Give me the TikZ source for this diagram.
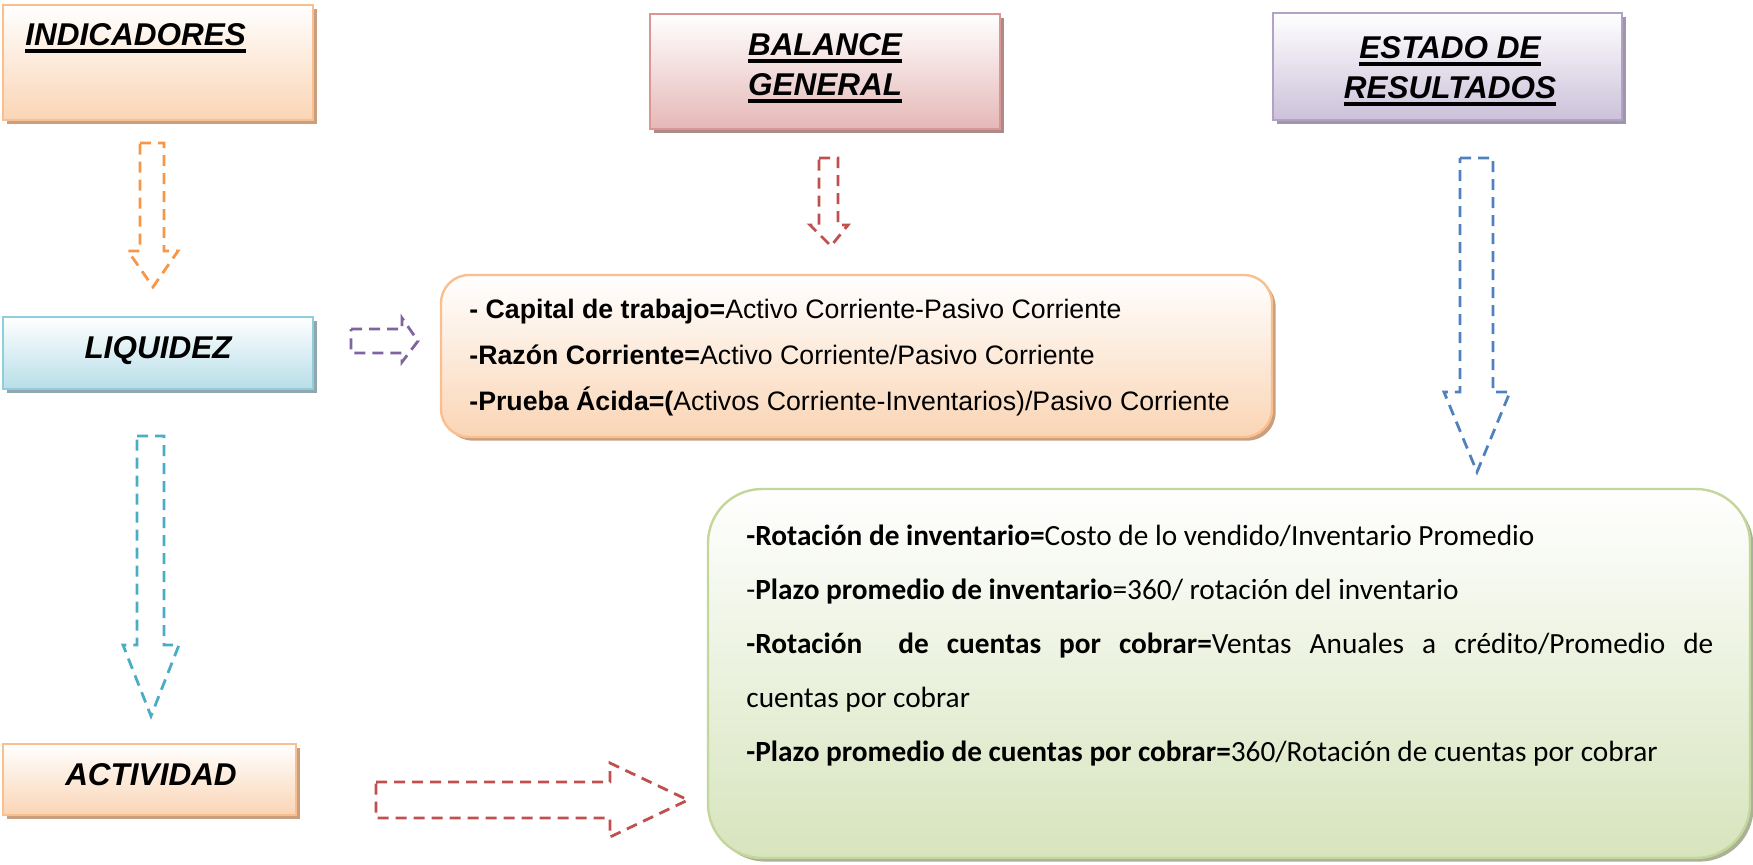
\documentclass[tikz,border=0pt]{standalone}
\usepackage{fontspec}
\setmainfont{Liberation Sans}
\newfontfamily\calfont{Carlito}
\definecolor{orB}{RGB}{250,191,143}
\definecolor{orF}{RGB}{250,213,181}
\definecolor{orS}{RGB}{200,160,128}
\definecolor{rdB}{RGB}{217,150,148}
\definecolor{rdF}{RGB}{229,184,183}
\definecolor{rdS}{RGB}{172,138,138}
\definecolor{puB}{RGB}{179,162,199}
\definecolor{puF}{RGB}{204,193,218}
\definecolor{puS}{RGB}{158,151,168}
\definecolor{cyB}{RGB}{146,205,221}
\definecolor{cyF}{RGB}{183,222,232}
\definecolor{cyS}{RGB}{143,167,173}
\definecolor{grB}{RGB}{195,214,155}
\definecolor{grF}{RGB}{215,228,189}
\definecolor{grS}{RGB}{169,178,150}
\definecolor{aOr}{RGB}{247,150,70}
\definecolor{aRd}{RGB}{192,80,77}
\definecolor{aBl}{RGB}{79,129,189}
\definecolor{aCy}{RGB}{75,172,198}
\definecolor{aPu}{RGB}{128,100,162}
\newcommand\myul[1]{\setbox0\hbox{#1}\rlap{\rule[-4pt]{\wd0}{1.8pt}}\box0}
\tikzset{
  boxbase/.style n args={3}{rectangle, draw=#1, line width=1.2pt, top color=white, bottom color=#2,
    preaction={fill=#3, transform canvas={xshift=1.8pt,yshift=-1.8pt}}, inner sep=0pt},
  head/.style={font=\fontsize{15.75}{18}\selectfont\bfseries\itshape, inner sep=0pt},
  ftxt/.style={font=\fontsize{13.35}{16}\selectfont, inner sep=0pt, anchor=base west},
  gtxt/.style={font=\calfont\fontsize{14.65}{18}\selectfont, inner sep=0pt, anchor=base west},
  blockarrow/.style={draw=#1, line width=1.4pt, dash pattern=on 5.5pt off 3.5pt, line join=miter}
}
\begin{document}
\begin{tikzpicture}[x=0.5pt,y=0.5pt]
\useasboundingbox (0,0) rectangle (1753,-864);
% boxes
\node[boxbase={orB}{orF}{orS}, minimum width=155pt, minimum height=57.5pt] (ind) at (158,-62.5) {};
\node[boxbase={rdB}{rdF}{rdS}, minimum width=175pt, minimum height=57.5pt] (bal) at (825,-71.5) {};
\node[boxbase={puB}{puF}{puS}, minimum width=174.5pt, minimum height=53.5pt] (est) at (1447.5,-66.5) {};
\node[boxbase={cyB}{cyF}{cyS}, minimum width=155pt, minimum height=36pt] (liq) at (158,-353) {};
\node[boxbase={orB}{orF}{orS}, minimum width=146.5pt, minimum height=35.5pt] (act) at (149.5,-779.5) {};
\node[boxbase={orB}{orF}{orS}, rounded corners=14pt, minimum width=415.5pt, minimum height=81pt] (fbox) at (856.5,-356) {};
\node[boxbase={grB}{grF}{grS}, rounded corners=27pt, minimum width=521pt, minimum height=184.5pt] (gbox) at (1229,-673.5) {};
% headings
\node[head, anchor=base west] (tind) at (25,-45) {\myul{INDICADORES}};
\node[head, anchor=base] (tbal1) at (825,-55) {\myul{BALANCE}};
\node[head, anchor=base] (tbal2) at (825,-95) {\myul{GENERAL}};
\node[head, anchor=base] (test1) at (1450,-58) {\myul{ESTADO DE}};
\node[head, anchor=base] (test2) at (1450,-98) {\myul{RESULTADOS}};
\node[head, anchor=base] (tliq) at (158,-358) {LIQUIDEZ};
\node[head, anchor=base] (tact) at (151,-785) {ACTIVIDAD};
% formula box text
\node[ftxt] (f1) at (469,-318) {\textbf{- Capital de trabajo=}Activo Corriente-Pasivo Corriente};
\node[ftxt] (f2) at (469,-364) {\textbf{-Razón Corriente=}Activo Corriente/Pasivo Corriente};
\node[ftxt] (f3) at (469,-410) {\textbf{-Prueba Ácida=(}Activos Corriente-Inventarios)/Pasivo Corriente};
% green box text
\node[gtxt] (g1) at (746,-545) {\textbf{-Rotación de inventario=}Costo de lo vendido/Inventario Promedio};
\node[gtxt] (g2) at (746,-599) {-\textbf{Plazo promedio de inventario}=360/ rotación del inventario};
\node[gtxt] (g3) at (746,-653) {\hbox to 483.5pt{\textbf{-Rotación\ \ de cuentas por cobrar=}Ventas Anuales a crédito/Promedio de}};
\node[gtxt] (g4) at (746,-707) {cuentas por cobrar};
\node[gtxt] (g5) at (746,-761) {\textbf{-Plazo promedio de cuentas por cobrar=}360/Rotación de cuentas por cobrar};
% dashed block arrows
\draw[blockarrow=aOr] (140,-143) -- (164,-143) -- (164,-251) -- (178,-251) -- (153,-287) -- (128,-251) -- (140,-251) -- cycle;
\draw[blockarrow=aRd] (819,-158) -- (838,-158) -- (838,-225) -- (848,-225) -- (831,-246) -- (810,-225) -- (819,-225) -- cycle;
\draw[blockarrow=aBl] (1460,-158) -- (1493,-158) -- (1493,-392) -- (1510,-392) -- (1477,-472) -- (1444,-392) -- (1460,-392) -- cycle;
\draw[blockarrow=aCy] (137,-436) -- (164,-436) -- (164,-645) -- (179,-645) -- (151,-716) -- (123,-645) -- (137,-645) -- cycle;
\draw[blockarrow=aPu] (351,-329) -- (402,-329) -- (402,-318) -- (418,-341) -- (402,-362) -- (402,-353) -- (351,-353) -- cycle;
\draw[blockarrow=aRd] (376,-782) -- (610,-782) -- (610,-763) -- (688,-800) -- (610,-837) -- (610,-818) -- (376,-818) -- cycle;
\end{tikzpicture}
\end{document}
